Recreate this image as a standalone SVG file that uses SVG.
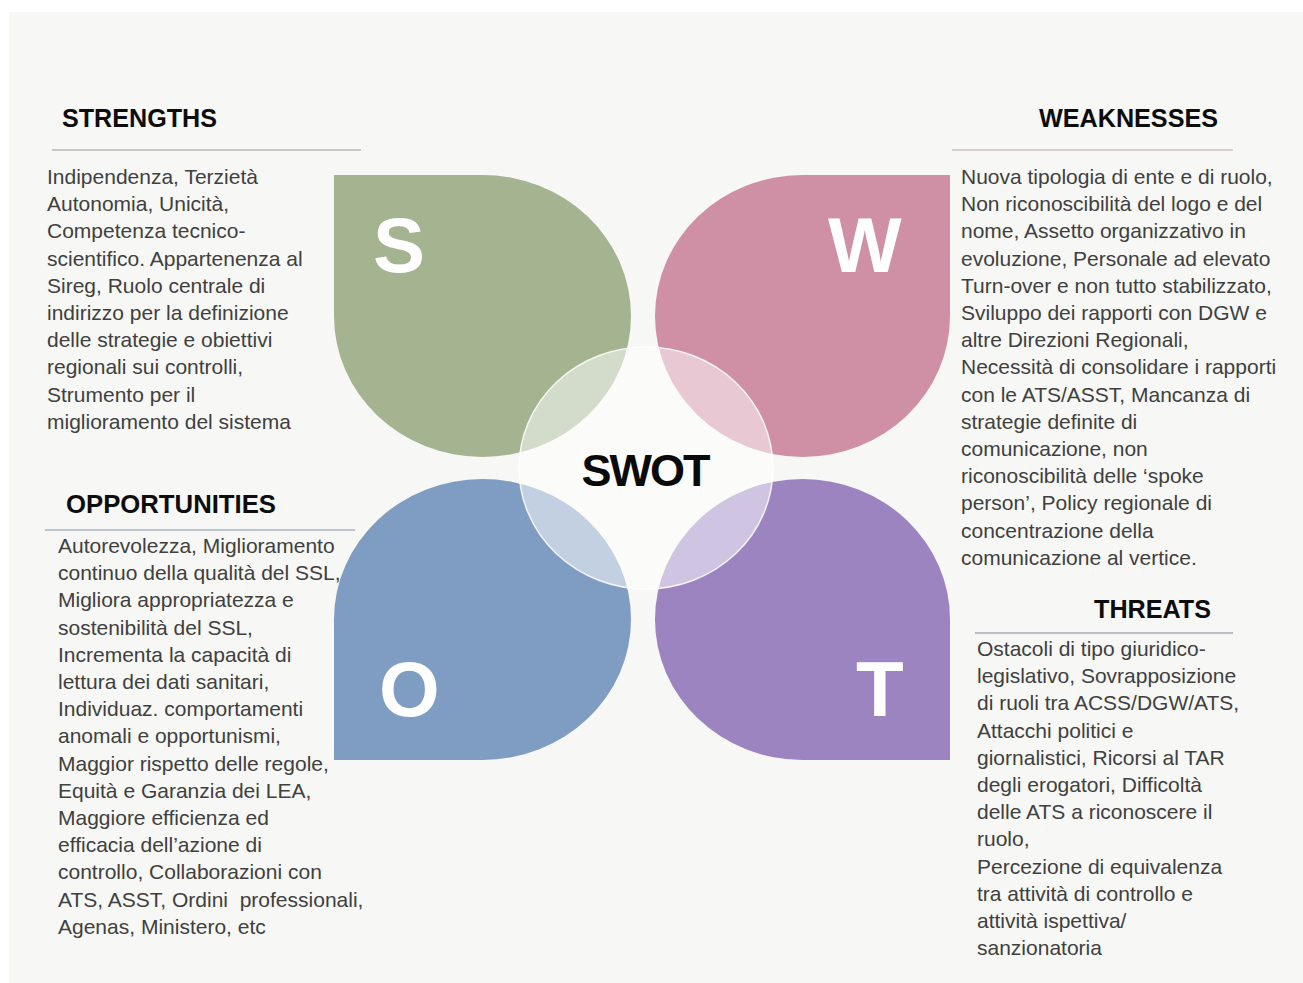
<svg xmlns="http://www.w3.org/2000/svg" width="1303" height="983" viewBox="0 0 1303 983">
<style>
.bg{fill:#f7f7f5}
.head{font-family:"Liberation Sans",Arial,sans-serif;font-weight:bold;font-size:25px;fill:#0d0d0d}
.body{font-family:"Liberation Sans",Arial,sans-serif;font-size:21px;fill:#404040}
.big{font-family:"Liberation Sans",Arial,sans-serif;font-weight:bold;font-size:78px;fill:#ffffff}
.swot{font-family:"Liberation Sans",Arial,sans-serif;font-weight:bold;font-size:45px;fill:#0a0a0a;letter-spacing:-2px}
.rule{stroke-width:1.5;fill:none}
</style>
<rect x="0" y="0" width="1303" height="983" fill="#ffffff"/>
<rect class="bg" x="9" y="12" width="1294" height="971"/>

<g id="petal-S">
<path d="M334,175 H482.5 A148.5,141 0 0 1 631,316 A148.5,141 0 0 1 482.5,457 A148.5,141 0 0 1 334,316 Z" fill="#a4b490"/>
<text class="big" x="373" y="272">S</text>
</g>
<g id="petal-W">
<path d="M950,175 V316 A147.5,141 0 0 1 802.5,457 A147.5,141 0 0 1 655,316 A147.5,141 0 0 1 802.5,175 Z" fill="#cf8fa4"/>
<text class="big" x="828" y="272">W</text>
</g>
<g id="petal-O">
<path d="M334,760 V619.5 A148.5,140.5 0 0 1 482.5,479 A148.5,140.5 0 0 1 631,619.5 A148.5,140.5 0 0 1 482.5,760 Z" fill="#7f9dc3"/>
<text class="big" x="379" y="716">O</text>
</g>
<g id="petal-T">
<path d="M950,760 H802.5 A147.5,140.5 0 0 1 655,619.5 A147.5,140.5 0 0 1 802.5,479 A147.5,140.5 0 0 1 950,619.5 Z" fill="#9c84c0"/>
<text class="big" x="856" y="716">T</text>
</g>

<g id="center-SWOT">
<ellipse cx="646" cy="468" rx="127" ry="121" fill="#ffffff" fill-opacity="0.52" stroke="#ffffff" stroke-opacity="0.85" stroke-width="1.5"/>
<text class="swot" x="645" y="486" text-anchor="middle">SWOT</text>
</g>

<g id="connectors"></g>

<g id="strengths">
<text class="head" x="62" y="127" textLength="155" lengthAdjust="spacingAndGlyphs">STRENGTHS</text>
<line class="rule" x1="52" y1="150" x2="361" y2="150" stroke="#b9b9b1"/>
<text class="body" x="47" y="184">
<tspan x="47" y="184">Indipendenza, Terzietà</tspan>
<tspan x="47" dy="27.2">Autonomia, Unicità,</tspan>
<tspan x="47" dy="27.2">Competenza tecnico-</tspan>
<tspan x="47" dy="27.2">scientifico. Appartenenza al</tspan>
<tspan x="47" dy="27.2">Sireg, Ruolo centrale di</tspan>
<tspan x="47" dy="27.2">indirizzo per la definizione</tspan>
<tspan x="47" dy="27.2">delle strategie e obiettivi</tspan>
<tspan x="47" dy="27.2">regionali sui controlli,</tspan>
<tspan x="47" dy="27.2">Strumento per il</tspan>
<tspan x="47" dy="27.2">miglioramento del sistema</tspan>
</text>
</g>

<g id="weaknesses">
<text class="head" x="1039" y="127" textLength="179" lengthAdjust="spacingAndGlyphs">WEAKNESSES</text>
<line class="rule" x1="952" y1="150" x2="1233" y2="150" stroke="#cdbfc2"/>
<text class="body" x="961" y="184">
<tspan x="961" y="184">Nuova tipologia di ente e di ruolo,</tspan>
<tspan x="961" dy="27.2">Non riconoscibilità del logo e del</tspan>
<tspan x="961" dy="27.2">nome, Assetto organizzativo in</tspan>
<tspan x="961" dy="27.2">evoluzione, Personale ad elevato</tspan>
<tspan x="961" dy="27.2">Turn-over e non tutto stabilizzato,</tspan>
<tspan x="961" dy="27.2">Sviluppo dei rapporti con DGW e</tspan>
<tspan x="961" dy="27.2">altre Direzioni Regionali,</tspan>
<tspan x="961" dy="27.2">Necessità di consolidare i rapporti</tspan>
<tspan x="961" dy="27.2">con le ATS/ASST, Mancanza di</tspan>
<tspan x="961" dy="27.2">strategie definite di</tspan>
<tspan x="961" dy="27.2">comunicazione, non</tspan>
<tspan x="961" dy="27.2">riconoscibilità delle ‘spoke</tspan>
<tspan x="961" dy="27.2">person’, Policy regionale di</tspan>
<tspan x="961" dy="27.2">concentrazione della</tspan>
<tspan x="961" dy="27.2">comunicazione al vertice.</tspan>
</text>
</g>

<g id="opportunities">
<text class="head" x="66" y="513" textLength="210" lengthAdjust="spacingAndGlyphs">OPPORTUNITIES</text>
<line class="rule" x1="45" y1="530" x2="355" y2="530" stroke="#a9b3c3"/>
<text class="body" x="58" y="553">
<tspan x="58" y="553">Autorevolezza, Miglioramento</tspan>
<tspan x="58" dy="27.2">continuo della qualità del SSL,</tspan>
<tspan x="58" dy="27.2">Migliora appropriatezza e</tspan>
<tspan x="58" dy="27.2">sostenibilità del SSL,</tspan>
<tspan x="58" dy="27.2">Incrementa la capacità di</tspan>
<tspan x="58" dy="27.2">lettura dei dati sanitari,</tspan>
<tspan x="58" dy="27.2">Individuaz. comportamenti</tspan>
<tspan x="58" dy="27.2">anomali e opportunismi,</tspan>
<tspan x="58" dy="27.2">Maggior rispetto delle regole,</tspan>
<tspan x="58" dy="27.2">Equità e Garanzia dei LEA,</tspan>
<tspan x="58" dy="27.2">Maggiore efficienza ed</tspan>
<tspan x="58" dy="27.2">efficacia dell’azione di</tspan>
<tspan x="58" dy="27.2">controllo, Collaborazioni con</tspan>
<tspan x="58" dy="27.2">ATS, ASST, Ordini&#160; professionali,</tspan>
<tspan x="58" dy="27.2">Agenas, Ministero, etc</tspan>
</text>
</g>

<g id="threats">
<text class="head" x="1094" y="618" textLength="117" lengthAdjust="spacingAndGlyphs">THREATS</text>
<line class="rule" x1="975" y1="633" x2="1233" y2="633" stroke="#a8a6bf"/>
<text class="body" x="977" y="656">
<tspan x="977" y="656">Ostacoli di tipo giuridico-</tspan>
<tspan x="977" dy="27.2">legislativo, Sovrapposizione</tspan>
<tspan x="977" dy="27.2">di ruoli tra ACSS/DGW/ATS,</tspan>
<tspan x="977" dy="27.2">Attacchi politici e</tspan>
<tspan x="977" dy="27.2">giornalistici, Ricorsi al TAR</tspan>
<tspan x="977" dy="27.2">degli erogatori, Difficoltà</tspan>
<tspan x="977" dy="27.2">delle ATS a riconoscere il</tspan>
<tspan x="977" dy="27.2">ruolo,</tspan>
<tspan x="977" dy="27.2">Percezione di equivalenza</tspan>
<tspan x="977" dy="27.2">tra attività di controllo e</tspan>
<tspan x="977" dy="27.2">attività ispettiva/</tspan>
<tspan x="977" dy="27.2">sanzionatoria</tspan>
</text>
</g>
</svg>
